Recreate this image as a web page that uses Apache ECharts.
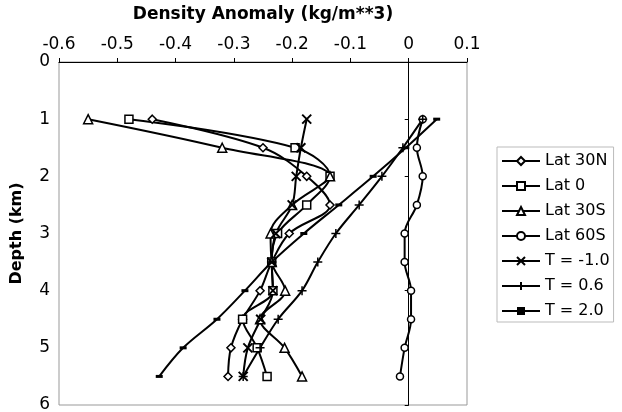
<!DOCTYPE html>
<html>
<head>
<meta charset="utf-8">
<script src="https://cdn.jsdelivr.net/npm/echarts@6/dist/echarts.min.js"></script>
<style>
  html, body { margin: 0; padding: 0; background: #fff; }
  #chart { width: 622px; height: 412px; }
</style>
</head>
<body>
<div id="chart"></div>
<script>
// depth levels (km)
const depths = [1, 1.5, 2, 2.5, 3, 3.5, 4, 4.5, 5, 5.5];

// density anomaly per curve
const lat30N = [-0.44, -0.25, -0.175, -0.135, -0.205, -0.235, -0.255, -0.285, -0.305, -0.31];
const lat0 = [-0.48, -0.195, -0.135, -0.175, -0.225, -0.235, -0.233, -0.285, -0.26, -0.243];
const lat30S = [-0.55, -0.32, -0.135, -0.2, -0.237, -0.235, -0.212, -0.255, -0.213, -0.183];
const lat60S = [0.024, 0.014, 0.024, 0.014, -0.007, -0.007, 0.004, 0.004, -0.007, -0.015];
const tMinus1 = [-0.175, -0.185, -0.193, -0.2, -0.228, -0.235, -0.233, -0.254, -0.276, -0.284];
const t06 = [0.024, -0.01, -0.046, -0.085, -0.125, -0.156, -0.183, -0.224, -0.255, -0.284];
const t20 = [0.048, -0.005, -0.061, -0.12, -0.18, -0.235, -0.281, -0.329, -0.387, -0.428];

const xTicks = { min: -0.6, max: 0.1, step: 0.1 };
const yTicks = { min: 0, max: 6, step: 1 };

const font = "DejaVu Sans";

function pairs(vals) {
  return vals.map(function (v, i) { return [v, depths[i]]; });
}

const hollow = { color: "#fff", borderColor: "#000", borderWidth: 1.5 };

function makeSeries(name, vals, symbol, size, style) {
  return {
    name: name,
    type: "line",
    data: pairs(vals),
    smooth: 0.35,
    symbol: symbol,
    symbolSize: size,
    showAllSymbol: true,
    lineStyle: { color: "#000", width: 2 },
    itemStyle: style,
    clip: false,
    animation: false
  };
}

const chart = echarts.init(document.getElementById("chart"));

const option = {
  backgroundColor: "#fff",
  textStyle: { fontFamily: font },
  grid: {
    left: 59, top: 62, width: 408, height: 343,
    outerBoundsMode: "none", containLabel: false,
    show: true, borderColor: "#999", borderWidth: 1
  },
  xAxis: {
    type: "value",
    position: "top",
    min: xTicks.min,
    max: xTicks.max,
    interval: xTicks.step,
    name: "Density Anomaly (kg/m**3)",
    nameLocation: "middle",
    nameGap: 39,
    nameTextStyle: { fontFamily: font, fontSize: 17, fontWeight: "bold", color: "#000" },
    axisLine: { show: true, lineStyle: { color: "#000", width: 1 } },
    axisTick: { show: true, length: 4, lineStyle: { color: "#000" } },
    axisLabel: { fontFamily: font, fontSize: 17, color: "#000", margin: 9 },
    splitLine: { show: false }
  },
  yAxis: {
    type: "value",
    inverse: true,
    min: yTicks.min,
    max: yTicks.max,
    interval: yTicks.step,
    name: "Depth (km)",
    nameLocation: "middle",
    nameGap: 34,
    nameRotate: 90,
    nameTextStyle: { fontFamily: font, fontSize: 16, fontWeight: "bold", color: "#000" },
    axisLine: { show: true, lineStyle: { color: "#000", width: 1 } },
    axisTick: { show: true, length: 4, lineStyle: { color: "#000" } },
    axisLabel: { fontFamily: font, fontSize: 17, color: "#000", margin: 9 },
    splitLine: { show: false }
  },
  legend: {
    orient: "vertical",
    left: 497,
    top: 147,
    padding: [6, 4, 3, 4],
    borderColor: "#bbb",
    borderWidth: 1,
    itemWidth: 38,
    itemHeight: 10,
    itemGap: 9,
    textStyle: { fontFamily: font, fontSize: 16, lineHeight: 16, color: "#000" }
  },
  series: [
    makeSeries("Lat 30N", lat30N, "diamond", 8, hollow),
    makeSeries("Lat 0", lat0, "rect", 8, hollow),
    makeSeries("Lat 30S", lat30S, "triangle", 9, hollow),
    makeSeries("Lat 60S", lat60S, "circle", 7, hollow),
    makeSeries("T = -1.0", tMinus1, "path://M0,0L10,10M10,0L0,10", 9, { color: "#000", borderColor: "#000", borderWidth: 2 }),
    makeSeries("T = 0.6", t06, "path://M5,0L5,10M0,5L10,5", 9, { color: "#000", borderColor: "#000", borderWidth: 1.5 }),
    makeSeries("T = 2.0", t20, "rect", [7, 3], { color: "#000", borderWidth: 0 })
  ]
};

chart.setOption(option);
</script>
</body>
</html>
